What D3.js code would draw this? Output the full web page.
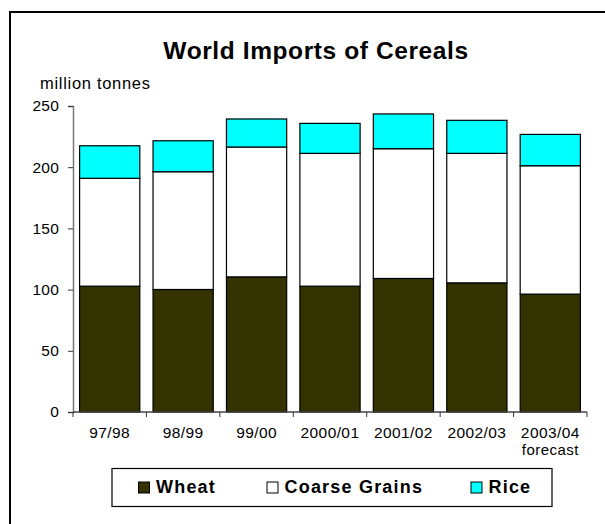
<!DOCTYPE html>
<html>
<head>
<meta charset="utf-8">
<script src="https://cdn.jsdelivr.net/npm/d3@7"></script>
<style>
  body { margin: 0; background: #fff; }
  svg { display: block; font-family: "Liberation Sans", Arial, sans-serif; }
</style>
</head>
<body>
<svg id="chart"></svg>
<script>
const years = ["97/98", "98/99", "99/00", "2000/01", "2001/02", "2002/03", "2003/04"];
const yearNotes = ["", "", "", "", "", "", "forecast"];
const wheat = [102.8, 100.1, 110.4, 102.8, 109.1, 105.5, 96.3];
const coarseGrains = [88.1, 96.2, 106.1, 108.5, 106.0, 105.8, 104.9];
const rice = [26.6, 25.3, 22.9, 24.5, 28.4, 27.0, 25.6];
const seriesNames = ["Wheat", "Coarse Grains", "Rice"];
const seriesColors = ["#333300", "#ffffff", "#00ffff"];
const yTicks = [0, 50, 100, 150, 200, 250];

const width = 605, height = 524;
const margin = { top: 106, right: 18, bottom: 112, left: 73 };

const svg = d3.select("#chart").attr("width", width).attr("height", height);

// outer frame, runs off the right and bottom edges
svg.append("rect")
    .attr("x", 10).attr("y", 12)
    .attr("width", 620).attr("height", 540)
    .attr("fill", "none").attr("stroke", "#000").attr("stroke-width", 2);

const table = years.map((y, i) => ({ year: y, Wheat: wheat[i], "Coarse Grains": coarseGrains[i], Rice: rice[i] }));
const stack = d3.stack().keys(seriesNames)(table);

const x = d3.scaleBand()
    .domain(years)
    .range([margin.left, width - margin.right])
    .paddingInner(0.18)
    .paddingOuter(0.09);

const y = d3.scaleLinear()
    .domain([0, 250])
    .range([height - margin.bottom, margin.top]);

const color = d3.scaleOrdinal(seriesNames, seriesColors);

svg.append("text")
    .attr("x", 316).attr("y", 59)
    .attr("text-anchor", "middle")
    .attr("font-size", 24.5).attr("font-weight", "bold")
    .attr("letter-spacing", 0.6)
    .text("World Imports of Cereals");

svg.append("text")
    .attr("x", 40).attr("y", 89)
    .attr("font-size", 16.5)
    .attr("letter-spacing", 0.7)
    .text("million tonnes");

svg.append("g")
    .selectAll("g")
    .data(stack)
    .join("g")
    .attr("fill", d => color(d.key))
    .selectAll("rect")
    .data(d => d)
    .join("rect")
    .attr("x", d => x(d.data.year))
    .attr("y", d => y(d[1]))
    .attr("width", x.bandwidth())
    .attr("height", d => y(d[0]) - y(d[1]))
    .attr("stroke", "#000")
    .attr("stroke-width", 1.2);

// y axis
const yAxis = svg.append("g")
    .attr("transform", `translate(${margin.left},0)`)
    .call(d3.axisLeft(y).tickValues(yTicks).tickSize(5).tickPadding(9));
yAxis.select(".domain").attr("stroke", "#777").attr("stroke-width", 1.5);
yAxis.selectAll(".tick line").attr("stroke", "#333");
yAxis.selectAll(".tick text").attr("font-size", 15.5).attr("fill", "#000")
    .attr("letter-spacing", 0.2)
    .attr("font-family", "Liberation Sans, Arial, sans-serif");

// x axis: ticks sit on category boundaries
const xAxisG = svg.append("g")
    .attr("transform", `translate(0,${height - margin.bottom})`);
xAxisG.append("line")
    .attr("x1", margin.left).attr("x2", width - margin.right)
    .attr("stroke", "#444").attr("stroke-width", 1.5);
const bounds = d3.range(years.length + 1).map(i => margin.left + i * (width - margin.right - margin.left) / years.length);
xAxisG.selectAll(".bt")
    .data(bounds)
    .join("line")
    .attr("x1", d => d).attr("x2", d => d)
    .attr("y1", 0).attr("y2", 5)
    .attr("stroke", "#333");
xAxisG.selectAll(".lbl")
    .data(years)
    .join("text")
    .attr("class", "lbl")
    .attr("x", d => x(d) + x.bandwidth() / 2)
    .attr("y", 26)
    .attr("text-anchor", "middle")
    .attr("font-size", 15.5)
    .attr("letter-spacing", 0.4)
    .text(d => d);
xAxisG.selectAll(".note")
    .data(years.filter((d, i) => yearNotes[i]))
    .join("text")
    .attr("class", "note")
    .attr("x", d => x(d) + x.bandwidth() / 2)
    .attr("y", 43)
    .attr("text-anchor", "middle")
    .attr("font-size", 15)
    .attr("letter-spacing", 0.45)
    .text(d => yearNotes[years.indexOf(d)]);

// legend
const legend = svg.append("g");
legend.append("rect")
    .attr("x", 112).attr("y", 468.5)
    .attr("width", 440).attr("height", 38)
    .attr("fill", "#fff").attr("stroke", "#000").attr("stroke-width", 1.2);
const legendX = [138.5, 267, 471];
const items = legend.selectAll(".item")
    .data(seriesNames)
    .join("g")
    .attr("transform", (d, i) => `translate(${legendX[i]},482)`);
items.append("rect")
    .attr("width", 11).attr("height", 11)
    .attr("fill", d => color(d)).attr("stroke", "#000");
items.append("text")
    .attr("x", 17.5).attr("y", 11)
    .attr("font-size", 18).attr("font-weight", "bold")
    .attr("letter-spacing", 1.2)
    .text(d => d);
</script>
</body>
</html>
